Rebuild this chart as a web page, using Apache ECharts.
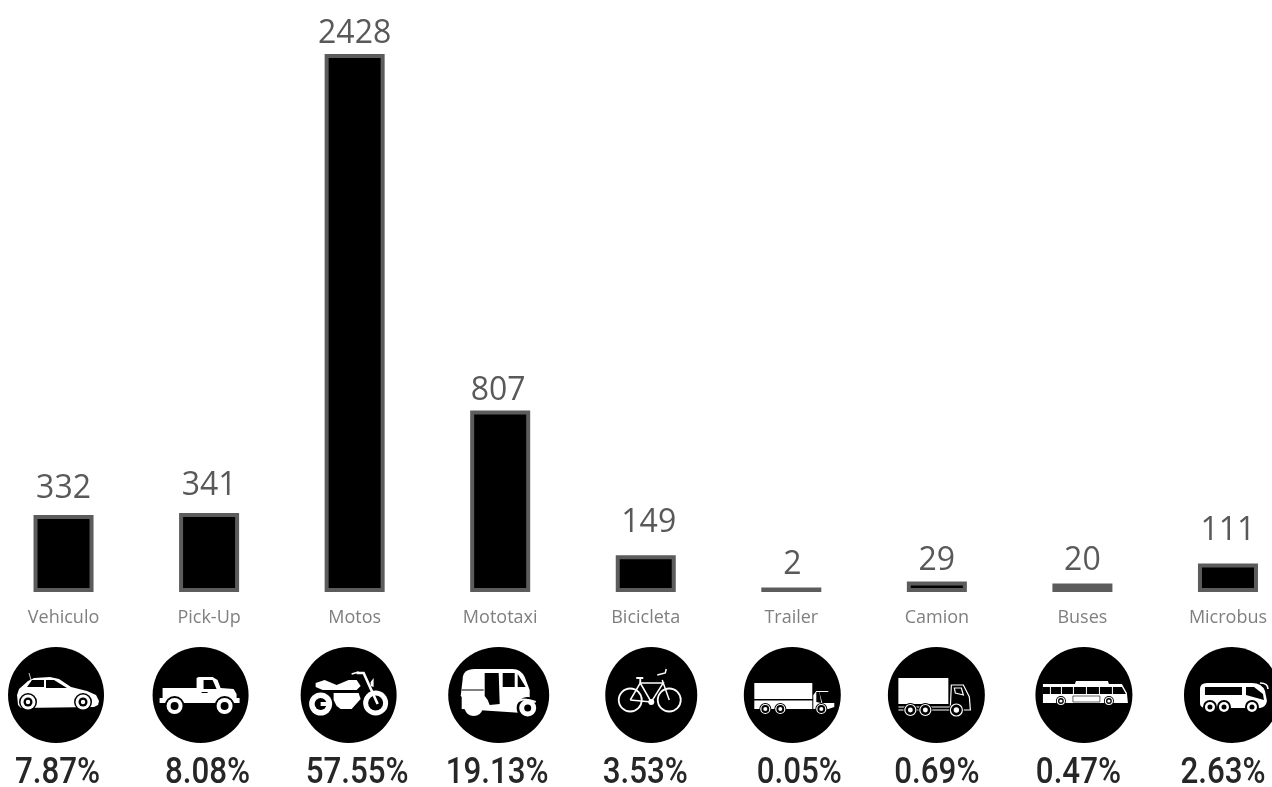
<!DOCTYPE html>
<html>
<head>
<meta charset="utf-8">
<style>html,body{margin:0;padding:0;background:#fff}#chart{width:1272px;height:787px}</style>
<script src="https://cdn.jsdelivr.net/npm/echarts@6/dist/echarts.min.js"></script>
</head>
<body>
<div id="chart"></div>
<script>
const categories = ['Vehiculo','Pick-Up','Motos','Mototaxi','Bicicleta','Trailer','Camion','Buses','Microbus'];
const counts = [332,341,2428,807,149,2,29,20,111];
const shares = [7.87,8.08,57.55,19.13,3.53,0.05,0.69,0.47,2.63];
const iconKeys = ['car','pickup','moto','mototaxi','bike','trailer','truck','bus','coach'];

// Small hand placements for the count labels and the badge row
const labelNudge = [[0,-6],[0,-7],[0,0],[-2,0],[3,-12],[1,-3],[0,-1],[0,-3],[0,-13]];
const badgeNudge = [-7.5,-8.5,-6,-1.5,5.5,1,-0.5,1.5,4];
const shareNudge = [-6,-1.5,2.5,-3,-0.5,8,0,-4,-5];
const badgeWidth = [96,96,96,101,92,97,97,97,96];

const WHITE = '#fff', BLACK = '#000', BAR_EDGE = '#5c5c5c';
const disc = (x, y, r) => `M${x - r} ${y}a${r} ${r} 0 1 0 ${2 * r} 0a${r} ${r} 0 1 0 ${-2 * r} 0Z`;
const fill = (d, color = WHITE) => ({ d, fill: color });
const line = (d, width = 2, color = WHITE) => ({ d, stroke: color, width });
const wheel = (x, y, r, hole) => [fill(disc(x, y, r + 2), BLACK), fill(disc(x, y, r)), fill(disc(x, y, hole), BLACK)];
const ringWheel = (x, y, r) => [fill(disc(x, y, r + 1.5), BLACK), line(disc(x, y, r), 1.2), fill(disc(x, y, r * 0.45))];

// Vehicle glyphs, drawn around the centre of each badge
const vehicleIcons = {
  car: [
    line('M-25 -15L-27 -22', 0.8),
    fill('M-38 10L-39 0L-37 -6L-28 -14L-22 -17L-6 -18L3 -16L15 -8L31 -4L40 0L43 6L42 10L38 12L-35 13Z'),
    fill('M-24 -15L-12 -15L-12 -8L-29 -8Z', BLACK),
    fill('M-10 -15L-2 -15L11 -7L-10 -7Z', BLACK),
    fill(disc(-28, 7, 9), BLACK), fill(disc(-28, 7, 7.5)), fill(disc(-28, 7, 4.5), BLACK), fill(disc(-28, 7, 2.2)),
    fill(disc(27, 7, 9), BLACK), fill(disc(27, 7, 7.5)), fill(disc(27, 7, 4.5), BLACK), fill(disc(27, 7, 2.2))
  ],
  pickup: [
    fill('M-38 -7L-4 -7L-4 -17L-2 -18L12 -18L17 -15L20 -7L33 -6L36 -1L36 3L39 3L39 8L-41 8L-41 3L-38 3Z'),
    fill('M3 -15L12 -15L16 -6L3 -6Z', BLACK),
    fill('M1 -3L7 -3L7 -2L1 -2Z', BLACK),
    ...wheel(-26, 11, 8, 4), ...wheel(24, 11, 8, 4)
  ],
  moto: [
    fill('M-33 -12L-24 -15L-12 -10L0 -15L8 -15L12 -9L8 -5L-26 -5L-33 -8Z'),
    fill('M-15 -2L10 -2L12 4L3 14L-8 14L-12 11L-15 5Z'),
    fill(disc(-28, 9, 11.5)), fill(disc(-28, 9, 6), BLACK), fill('M-28 7L-18 7L-18 11L-28 11Z'),
    fill(disc(27, 8, 12.5)), fill(disc(27, 8, 7.5), BLACK),
    line('M8 -22L15 -22L29 9', 2.6),
    line('M3 -21L10 -23', 1.6),
    fill('M22 -13L25 -17L25 -8L22 -9Z')
  ],
  mototaxi: [
    fill('M-36 -16Q-36 -26 -24 -26L14 -26Q22 -26 26 -18L31 -5L31 8L24 18L-37 14L-37 2L-38 1Z'),
    fill('M-14 -22L0 -22L1 9L-9 10L-11 5L-14 1Z', BLACK),
    fill('M4 -22L16 -22L16 -8L4 -8Z', BLACK),
    fill('M19 -21L27 -8L19 -8Z', BLACK),
    line('M-37 -5L-15 -5', 1, BLACK),
    fill('M-34 14L-16 14Q-18 21 -25 21Q-32 21 -34 14Z'),
    fill(disc(29, 13, 11), BLACK), fill(disc(29, 13, 8.5)), fill(disc(29, 13, 3.5), BLACK),
    line('M17 9Q22 1 37 7', 2)
  ],
  bike: [
    line(disc(-21, 5, 11.5), 1.8), line(disc(18, 5, 11.5), 1.8),
    line('M-21 5L-11 -12L12 -12L0 7L-21 5', 1.5),
    line('M-11 -12L0 7M12 -12L18 5M11 -15L12 -12', 1.5),
    line('M-15 -17L-8 -17M-11 -17L-11 -12', 1.8),
    line('M6 -20L14 -22L15 -26', 1.5),
    fill(disc(0, 7, 3))
  ],
  trailer: [
    fill('M-38 -12L20 -12L20 4L-38 4Z'),
    fill('M-38 5.5L20 5.5L20 14L-38 14Z'),
    fill('M24 -4L36 -4L36 -3L27 -3L30 8L42 8L42 12L36 14L24 14L21 14L21 0Z'),
    fill('M24 -3L27 -3L29 8L24 7Z', BLACK),
    ...ringWheel(-27, 14, 4.5), ...ringWheel(-12, 14, 4.5), ...ringWheel(29, 14, 4.5)
  ],
  truck: [
    fill('M-38 -17L12 -17L12 9L-38 9Z'),
    line('M-38 12L14 12L15 -10L27 -10L33 2L34 15L-38 15', 1.2),
    line('M18 -7L25 -7L27 0L19 -2Z', 1.2),
    ...ringWheel(-26, 15, 5.5), ...ringWheel(-11, 15, 5.5), ...ringWheel(20, 15, 6)
  ],
  bus: [
    fill('M-9 -11L-8 -14L24 -14L25 -11Z'),
    fill('M-41 -11L38 -11L43 -2L44 8L-41 8Z'),
    fill('M-41 -8L-34 -8L-34 -1L-41 -1ZM-33 -8L-23 -8L-23 -1L-33 -1ZM-22 -8L-11 -8L-11 -1L-22 -1ZM-10 -8L2 -8L2 -1L-10 -1ZM3 -8L15 -8L15 -1L3 -1ZM16 -8L28 -8L28 -1L16 -1ZM29 -8L38 -8L42 -1L29 -1Z', BLACK),
    line('M-11 1L16 1L16 7L-11 7Z', 0.6, BLACK),
    ...ringWheel(-23, 6, 3.5), ...ringWheel(25, 6, 3.5)
  ],
  coach: [
    fill('M-32 -6Q-32 -12 -25 -12L20 -12Q30 -12 33 -4L35 6Q34 12 28 13L-28 13Q-32 12 -32 8Z'),
    line('M28 -12Q36 -12 36 -6', 1.6),
    fill('M-27 -8L10 -8L10 0L-27 0Z', BLACK),
    fill('M14 -8L22 -8L31 -1L32 5L14 0Z', BLACK),
    ...wheel(-22, 12, 5, 2.5), ...wheel(-8, 12, 5, 2.5), ...wheel(20, 12, 5, 2.5)
  ]
};

const toGraphic = layer => layer.fill
  ? { type: 'path', shape: { pathData: layer.d }, style: { fill: layer.fill } }
  : { type: 'path', shape: { pathData: layer.d }, style: { fill: 'none', stroke: layer.stroke, lineWidth: layer.width } };

// Outlined bar whose stroke straddles the value, with its count above it
function renderBar(params, api) {
  const i = params.dataIndex;
  const halfWidth = 28;
  const [cx, top] = api.coord([api.value(0), api.value(1)]);
  const [, base] = api.coord([api.value(0), 0]);
  const [dx, dy] = labelNudge[i];
  const height = base - top;
  return {
    type: 'group',
    children: [
      {
        type: 'rect',
        shape: { x: cx - halfWidth, y: top, width: halfWidth * 2, height },
        style: { fill: height > 5 ? BLACK : BAR_EDGE, stroke: BAR_EDGE, lineWidth: 4 }
      },
      {
        type: 'text', x: cx + dx, y: top - 6 + dy,
        style: {
          text: String(api.value(1)),
          font: '32px "Open Sans", sans-serif',
          fill: '#595959', align: 'center', verticalAlign: 'bottom'
        }
      }
    ]
  };
}

// One badge: black disc, vehicle glyph and the share underneath it
function renderBadge(params, api) {
  const i = params.dataIndex;
  const [x, y] = api.coord([api.value(0), 0]);
  return {
    type: 'group',
    children: [
      {
        type: 'group', x: x + badgeNudge[i], y,
        children: [
          { type: 'ellipse', shape: { cx: 0, cy: 0, rx: badgeWidth[i] / 2, ry: 48 }, style: { fill: BLACK } },
          ...vehicleIcons[iconKeys[i]].map(toGraphic)
        ]
      },
      {
        type: 'text', x: x + shareNudge[i], y: y + 79, scaleX: 0.87,
        style: {
          text: shares[i].toFixed(2) + '%',
          font: '500 36px Roboto, sans-serif',
          fill: '#262626', align: 'center', verticalAlign: 'middle'
        }
      }
    ]
  };
}

const chart = echarts.init(document.getElementById('chart'), null, { renderer: 'canvas' });
chart.setOption({
  animation: false,
  backgroundColor: '#fff',
  grid: [
    { left: -9.25, top: 56, width: 1310, height: 534, outerBoundsMode: 'none' },
    { left: -9.25, top: 647, width: 1310, height: 96, outerBoundsMode: 'none' }
  ],
  xAxis: [
    {
      type: 'category', gridIndex: 0, data: categories,
      axisLine: { show: false }, axisTick: { show: false },
      axisLabel: { color: '#7f7f7f', fontSize: 18, fontFamily: '"Open Sans", sans-serif', margin: 19, interval: 0 }
    },
    { type: 'category', gridIndex: 1, data: categories, show: false }
  ],
  yAxis: [
    { type: 'value', gridIndex: 0, min: 0, max: 2428, show: false },
    { type: 'value', gridIndex: 1, min: -1, max: 1, show: false }
  ],
  series: [
    {
      type: 'custom', xAxisIndex: 0, yAxisIndex: 0, clip: false,
      renderItem: renderBar,
      data: counts.map((value, i) => [i, value]),
      encode: { x: 0, y: 1 }
    },
    {
      type: 'custom', xAxisIndex: 1, yAxisIndex: 1, clip: false,
      renderItem: renderBadge,
      data: categories.map((name, i) => [i, shares[i]]),
      encode: { x: 0, y: 1 }
    }
  ]
});
</script>
</body>
</html>
